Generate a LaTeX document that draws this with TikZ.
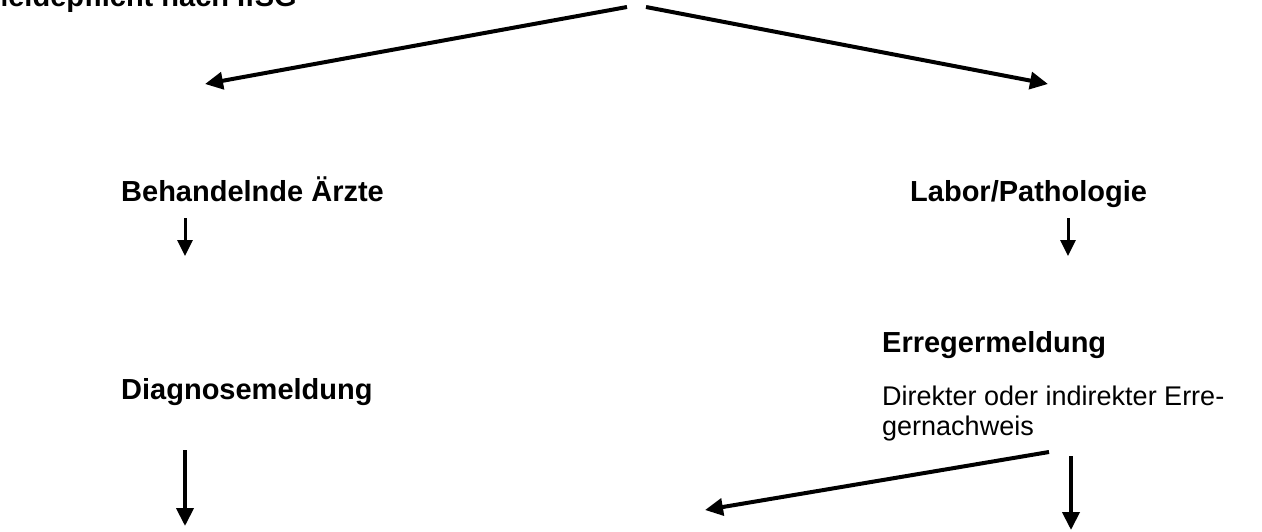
\documentclass[tikz,border=0pt]{standalone}
\usepackage{fontspec}
\setmainfont{Liberation Sans}
\usetikzlibrary{arrows.meta}
\begin{document}
\begin{tikzpicture}[x=1pt,y=-1pt,
  lbl/.style={anchor=base west,inner sep=0pt,font=\fontsize{29}{30}\selectfont\bfseries},
  txt/.style={anchor=base west,inner sep=0pt,align=left,font=\fontsize{27}{30}\selectfont},
  bigarrow/.style={line width=4pt,-{Triangle[width=17pt,length=18pt]}},
  smallarrow/.style={line width=3pt,-{Triangle[width=15pt,length=16pt]}}]
\useasboundingbox (0,0) rectangle (1262,531);
\fill[white] (0,0) rectangle (1262,531);
\node[lbl,anchor=base east] (title) at (297,6) {Meldepflicht nach IfSG};
\node[lbl] (arzt) at (121,201) {Behandelnde Ärzte};
\node[lbl] (labor) at (910,201) {Labor/Pathologie};
\node[lbl] (diag) at (121,399) {Diagnosemeldung};
\node[lbl] (err) at (882,352) {Erregermeldung};
\node[txt] (nach) at (882,435) {Direkter oder indirekter Erre-\\gernachweis};
\coordinate (tl0) at (627,7);
\coordinate (tl1) at (205,84);
\coordinate (tr0) at (646,7);
\coordinate (tr1) at (1048,84);
\coordinate (a0) at (185,218);
\coordinate (a1) at (185,256);
\coordinate (b0) at (1068,218);
\coordinate (b1) at (1068,256);
\coordinate (d0) at (185,450);
\coordinate (d1) at (185,526);
\coordinate (e0) at (1071,456);
\coordinate (e1) at (1071,530);
\coordinate (f0) at (1049,452);
\coordinate (f1) at (705,510);
\draw[bigarrow] (tl0) -- (tl1);
\draw[bigarrow] (tr0) -- (tr1);
\draw[smallarrow] (a0) -- (a1);
\draw[smallarrow] (b0) -- (b1);
\draw[bigarrow] (d0) -- (d1);
\draw[bigarrow] (e0) -- (e1);
\draw[bigarrow] (f0) -- (f1);
\end{tikzpicture}
\end{document}
